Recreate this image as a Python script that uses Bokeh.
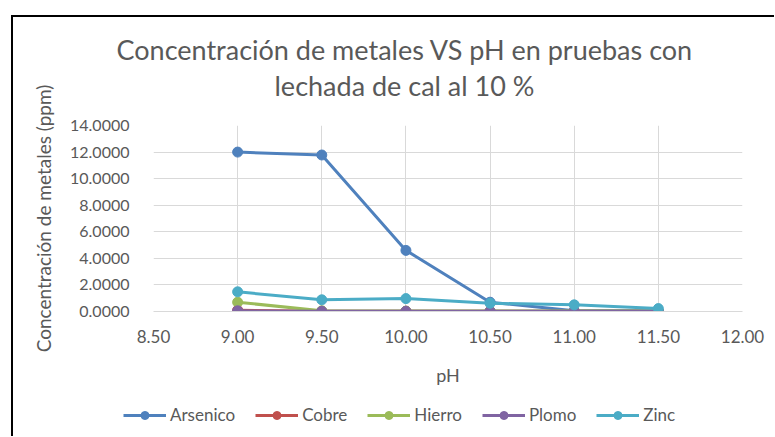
from bokeh.plotting import figure
from bokeh.models import (Range1d, FixedTicker, NumeralTickFormatter, Title, Legend, LegendItem)
from bokeh.layouts import column
from bokeh.embed import file_html
from bokeh.resources import INLINE

# ---- data ----
ph = [9.00, 9.50, 10.00, 10.50, 11.00, 11.50]
arsenico = [12.00, 11.78, 4.60, 0.70, 0.05, 0.05]
cobre = [0.10, 0.02, 0.02, 0.02, 0.02, 0.02]
hierro = [0.70, 0.05, 0.03, 0.03, 0.03, 0.03]
plomo = [0.05, 0.02, 0.02, 0.02, 0.02, 0.02]
zinc = [1.48, 0.88, 0.97, 0.62, 0.50, 0.22]
series_names = ["Arsenico", "Cobre", "Hierro", "Plomo", "Zinc"]
series_values = [arsenico, cobre, hierro, plomo, zinc]
series_colors = ["#4F81BD", "#C0504D", "#9BBB59", "#8064A2", "#4BACC6"]
x_ticks = [8.5, 9.0, 9.5, 10.0, 10.5, 11.0, 11.5, 12.0]
y_ticks = [0, 2, 4, 6, 8, 10, 12, 14]
title_lines = ["Concentración de metales VS pH en pruebas con", "lechada de cal al 10 %"]

FONT = "Lato"
TXT = "#595959"

# ---------------- main chart ----------------
p = figure(frame_width=589, frame_height=186, output_backend="svg", toolbar_location=None,
           x_range=Range1d(8.5, 12.0), y_range=Range1d(0, 14),
           min_border_left=153, min_border_right=32, min_border_top=125, min_border_bottom=82)
p.title = None
p.outline_line_color = None
p.background_fill_color = "white"
p.border_fill_alpha = 0
p.styles = {
    "background-image": "linear-gradient(#000,#000), linear-gradient(#000,#000)",
    "background-size": "2px 100%, 100% 2px",
    "background-position": "11px 15px, 11px 15px",
    "background-repeat": "no-repeat",
}

p.xaxis.ticker = FixedTicker(ticks=x_ticks)
p.yaxis.ticker = FixedTicker(ticks=y_ticks)
p.xaxis.formatter = NumeralTickFormatter(format="0.00")
p.yaxis.formatter = NumeralTickFormatter(format="0.0000")
for ax in (p.xaxis, p.yaxis):
    ax.major_tick_line_color = None
    ax.minor_tick_line_color = None
    ax.major_label_text_font = FONT
    ax.major_label_text_color = TXT
    ax.axis_label_text_font = FONT
    ax.axis_label_text_color = TXT
    ax.axis_label_text_font_style = "normal"
p.xaxis.major_label_text_font_size = "17px"
p.yaxis.major_label_text_font_size = "16px"
p.xaxis.axis_label_text_font_size = "18px"
p.yaxis.axis_label_text_font_size = "19px"
p.xaxis.axis_line_color = "#D9D9D9"
p.yaxis.axis_line_color = None
p.xaxis.axis_label = "pH"
p.yaxis.axis_label = "Concentración de metales (ppm)"
p.xaxis.major_label_standoff = 12
p.yaxis.major_label_standoff = 18
p.xaxis.axis_label_standoff = 18
p.yaxis.axis_label_standoff = 12

p.xgrid.grid_line_color = "#D9D9D9"
p.ygrid.grid_line_color = "#D9D9D9"

for vals, col in zip(series_values, series_colors):
    p.line(ph, vals, line_color=col, line_width=3)
    p.scatter(ph, vals, marker="circle", size=10, fill_color=col, line_color=col)

# title lines (second line added first: it sits closest to the frame)
p.add_layout(Title(text=title_lines[1], align="left", offset=121, standoff=47,
                   text_font=FONT, text_font_size="27px", text_color=TXT,
                   text_font_style="normal"), "above")
p.add_layout(Title(text=title_lines[0], align="left", offset=-37, standoff=-45,
                   text_font=FONT, text_font_size="27px", text_color=TXT,
                   text_font_style="normal"), "above")

# ---------------- legend strip ----------------
lg = figure(width=775, height=43, output_backend="svg", toolbar_location=None,
            x_range=Range1d(0, 1), y_range=Range1d(0, 1),
            x_axis_type=None, y_axis_type=None, min_border=0)
lg.title = None
lg.grid.visible = False
lg.outline_line_color = None
lg.background_fill_alpha = 0
lg.border_fill_alpha = 0
lg.styles = {
    "transform": "translateX(-30px)",
    "background-image": "linear-gradient(#000,#000)",
    "background-size": "2px 100%",
    "background-position": "41px 0px",
    "background-repeat": "no-repeat",
}

items = []
for name, vals, col in zip(series_names, series_values, series_colors):
    # same series, outside this strip's ranges: only their legend glyphs show
    r1 = lg.line(ph, vals, line_color=col, line_width=3)
    r2 = lg.scatter(ph, vals, marker="circle", size=10, fill_color=col, line_color=col)
    items.append(LegendItem(label=name, renderers=[r1, r2]))

legend = Legend(items=items, orientation="horizontal", location=(0, 11),
                glyph_width=43, glyph_height=20, label_standoff=4, spacing=20,
                padding=0, margin=0, border_line_color=None, background_fill_alpha=0,
                label_text_font=FONT, label_text_font_size="17px", label_text_color=TXT)
lg.add_layout(legend)

layout = column(p, lg, spacing=0)
open("out.html", "w").write(file_html(layout, INLINE))
